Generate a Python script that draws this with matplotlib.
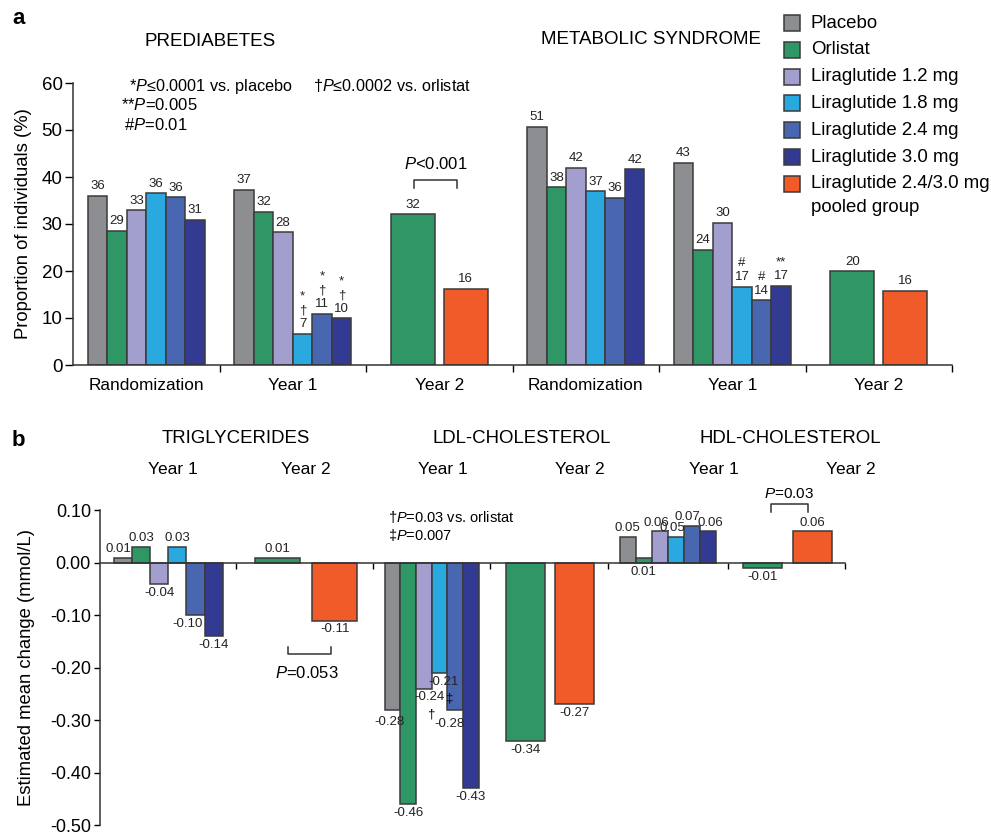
import numpy as np
import matplotlib.pyplot as plt
from matplotlib.patches import Rectangle

plt.rcParams['font.family'] = ['Liberation Sans', 'DejaVu Sans']
plt.rcParams['mathtext.fontset'] = 'custom'
plt.rcParams['mathtext.it'] = 'Liberation Sans:italic'
plt.rcParams['mathtext.rm'] = 'Liberation Sans'

W, H = 991, 835

# groups / colours
groups = ['Placebo', 'Orlistat', 'Liraglutide 1.2 mg', 'Liraglutide 1.8 mg',
          'Liraglutide 2.4 mg', 'Liraglutide 3.0 mg',
          'Liraglutide 2.4/3.0 mg\npooled group']
colors = ['#8d8e91', '#2f9766', '#a29fce', '#2aa9e1', '#4967b0', '#333a91', '#f05b29']
edge = '#3a3a3a'

# panel a: proportion of individuals (%)
a_sections = ['Randomization', 'Year 1', 'Year 2', 'Randomization', 'Year 1', 'Year 2']
pre_rand = [36.0, 28.6, 32.9, 36.6, 35.7, 30.9]
pre_rand_lab = ['36', '29', '33', '36', '36', '31']
pre_y1 = [37.3, 32.6, 28.2, 6.7, 10.9, 9.9]
pre_y1_lab = ['37', '32', '28', '*\n†\n7', '*\n†\n11', '*\n†\n10']
pre_y2 = [32.1, 16.2]
pre_y2_lab = ['32', '16']
ms_rand = [50.7, 37.8, 42.0, 37.0, 35.6, 41.6]
ms_rand_lab = ['51', '38', '42', '37', '36', '42']
ms_y1 = [43.0, 24.5, 30.3, 16.7, 13.8, 16.9]
ms_y1_lab = ['43', '24', '30', '#\n17', '#\n14', '**\n17']
ms_y2 = [19.9, 15.8]
ms_y2_lab = ['20', '16']

# panel b: estimated mean change (mmol/L)
tg_y1 = [0.01, 0.03, -0.04, 0.03, -0.10, -0.14]
tg_y2 = [0.01, -0.11]
ldl_y1 = [-0.28, -0.46, -0.24, -0.21, -0.28, -0.43]
ldl_y2 = [-0.34, -0.27]
hdl_y1 = [0.05, 0.01, 0.06, 0.05, 0.07, 0.06]
hdl_y2 = [-0.01, 0.06]
b_edges = [0, 1.0, 2.0, 2.86, 3.72, 4.6, 5.46]


def fx(px):
    return px / W


def fy(py):
    return 1 - py / H


fig = plt.figure(figsize=(9.91, 8.35), dpi=100)

# ---------------- panel a ----------------
axa = fig.add_axes([fx(73), fy(365), fx(952) - fx(73), fy(83) - fy(365)])
a_data = [pre_rand, pre_y1, pre_y2, ms_rand, ms_y1, ms_y2]
a_labs = [pre_rand_lab, pre_y1_lab, pre_y2_lab, ms_rand_lab, ms_y1_lab, ms_y2_lab]
for s, (vals, labs) in enumerate(zip(a_data, a_labs)):
    if len(vals) == 6:
        w = 0.8 / 6
        xs = s + 0.5 + (np.arange(6) - 2.5) * w
        cols = colors[:6]
    else:
        w = 0.30
        xs = s + np.array([0.32, 0.68])
        cols = [colors[1], colors[6]]
    axa.bar(xs, vals, width=w, color=cols, edgecolor=edge, linewidth=1.1, zorder=2)
    for x, v, t in zip(xs, vals, labs):
        axa.annotate(t, (x, v), xytext=(0, 2.5), textcoords='offset points',
                     ha='center', va='bottom', fontsize=9.5, color='#222222')

axa.set_xlim(0, 6)
axa.set_ylim(0, 60)
axa.set_yticks(range(0, 61, 10))
axa.set_xticks(range(1, 7))
axa.set_xticklabels([])
axa.set_xticks(np.arange(6) + 0.5, minor=True)
axa.set_xticklabels(a_sections, minor=True, fontsize=12.4)
axa.tick_params(axis='x', which='minor', length=0, pad=9)
axa.tick_params(axis='x', which='major', length=5, width=1, direction='out')
axa.tick_params(axis='y', length=5.5, width=1, direction='out', labelsize=13.5, pad=2)
for sp in ['top', 'right']:
    axa.spines[sp].set_visible(False)
for sp in ['left', 'bottom']:
    axa.spines[sp].set_linewidth(1.1)
    axa.spines[sp].set_color('#333333')
axa.set_ylabel('Proportion of individuals (%)', fontsize=13.3, labelpad=7)

# P<0.001 bracket (prediabetes, year 2)
x0, x1 = 2 + 0.328, 2 + 0.621
axa.plot([x0, x0, x1, x1], [37.7, 39.4, 39.4, 37.7], color='#333333', lw=1.1)
axa.text((x0 + x1) / 2, 41.0, '$P$<0.001', ha='center', va='bottom', fontsize=12)

fig.text(fx(12), fy(18), 'a', fontsize=16, fontweight='bold', va='center')
fig.text(fx(210), fy(42), 'PREDIABETES', fontsize=13.5, ha='center', va='center')
fig.text(fx(651), fy(40), 'METABOLIC SYNDROME', fontsize=13.5, ha='center', va='center')
fig.text(fx(129), fy(86), '*$P$\u22640.0001 vs. placebo', fontsize=11.7, va='center')
fig.text(fx(313), fy(86), '\u2020$P$\u22640.0002 vs. orlistat', fontsize=11.7, va='center')
fig.text(fx(121), fy(105), '**$P$=0.005', fontsize=12, va='center')
fig.text(fx(124), fy(125), '#$P$=0.01', fontsize=12, va='center')

# legend
row_y = 23
for i, (name, c) in enumerate(zip(groups, colors)):
    yc = row_y + i * 26.8
    fig.add_artist(Rectangle((fx(784), fy(yc + 8)), fx(16), 16 / H, transform=fig.transFigure,
                             facecolor=c, edgecolor=edge, linewidth=1.1))
    for k, line in enumerate(name.split('\n')):
        fig.text(fx(811), fy(yc + k * 24), line, fontsize=13.4, va='center')

# ---------------- panel b ----------------
axb = fig.add_axes([fx(100), fy(825), fx(845) - fx(100), fy(510.5) - fy(825)])
b_data = [tg_y1, tg_y2, ldl_y1, ldl_y2, hdl_y1, hdl_y2]
# label nudges (points) where the original staggers overlapping numbers
b_dx = {(0, 0): -3, (0, 4): -6, (2, 0): -2, (2, 2): 4, (2, 3): 3, (2, 4): -4,
        (4, 2): -2, (4, 3): -2, (4, 4): -3, (4, 5): 2}
b_dy = {(2, 0): -2.5, (2, 4): -4}
b_below = {(4, 1)}
b_x = []
for s, vals in enumerate(b_data):
    lo, hi = b_edges[s], b_edges[s + 1]
    sw = hi - lo
    if len(vals) == 6:
        w = 0.8 * sw / 6
        xs = lo + sw * 0.5 + (np.arange(6) - 2.5) * w
        cols = colors[:6]
    else:
        w = 0.33 * sw
        xs = lo + sw * np.array([0.30, 0.72])
        cols = [colors[1], colors[6]]
    b_x.append(xs)
    axb.bar(xs, vals, width=w, color=cols, edgecolor=edge, linewidth=1.1, zorder=2)
    for i, (x, v) in enumerate(zip(xs, vals)):
        dx = b_dx.get((s, i), 0)
        dy = b_dy.get((s, i), 0)
        if v > 0 and (s, i) not in b_below:
            axb.annotate(f'{v:.2f}', (x, v), xytext=(dx, 2 + dy), textcoords='offset points',
                         ha='center', va='bottom', fontsize=9.5, color='#222222')
        else:
            axb.annotate(f'{v:.2f}', (x, min(v, 0)), xytext=(dx, -2 + dy), textcoords='offset points',
                         ha='center', va='top', fontsize=9.5, color='#222222')

# daggers under LDL year 1 bars
axb.annotate('\u2020', (b_x[2][2], ldl_y1[2]), xytext=(5, -14), textcoords='offset points',
             ha='center', va='top', fontsize=9.5)
axb.annotate('\u2021', (b_x[2][3], ldl_y1[3]), xytext=(6.5, -14), textcoords='offset points',
             ha='center', va='top', fontsize=9.5)

axb.set_xlim(b_edges[0], b_edges[-1])
axb.set_ylim(-0.5, 0.1)
yt = np.round(np.arange(0.1, -0.51, -0.1), 2)
axb.set_yticks(yt)
axb.set_yticklabels([f'{t:.2f}' if t != 0 else '0.00' for t in yt])
axb.set_xticks(b_edges[1:])
axb.set_xticklabels([])
axb.spines['bottom'].set_position(('data', 0))
for sp in ['top', 'right']:
    axb.spines[sp].set_visible(False)
for sp in ['left', 'bottom']:
    axb.spines[sp].set_linewidth(1.1)
    axb.spines[sp].set_color('#333333')
axb.tick_params(axis='x', length=4.5, width=1, direction='out')
axb.tick_params(axis='y', length=4.5, width=1, direction='out', labelsize=13, pad=2)
axb.set_ylabel('Estimated mean change (mmol/L)', fontsize=13.3, labelpad=11)

# P=0.053 bracket (triglycerides, year 2)
lo, sw = b_edges[1], b_edges[2] - b_edges[1]
x0, x1 = lo + 0.377 * sw, lo + 0.69 * sw
axb.plot([x0, x0, x1, x1], [-0.160, -0.173, -0.173, -0.160], color='#333333', lw=1.1)
axb.text((x0 + x1) / 2 - 0.02, -0.195, '$P$=0.053', ha='center', va='top', fontsize=12)

# P=0.03 bracket (HDL, year 2)
lo, sw = b_edges[5], b_edges[6] - b_edges[5]
x0, x1 = lo + 0.367 * sw, lo + 0.684 * sw
axb.plot([x0, x0, x1, x1], [0.098, 0.113, 0.113, 0.098], color='#333333', lw=1.1, clip_on=False)
axb.text((x0 + x1) / 2, 0.118, '$P$=0.03', ha='center', va='bottom', fontsize=11)

fig.text(fx(12), fy(440), 'b', fontsize=16, fontweight='bold', va='center')
fig.text(fx(236), fy(438.5), 'TRIGLYCERIDES', fontsize=13.4, ha='center', va='center')
fig.text(fx(522), fy(438.5), 'LDL-CHOLESTEROL', fontsize=13.4, ha='center', va='center')
fig.text(fx(790), fy(438.5), 'HDL-CHOLESTEROL', fontsize=13.4, ha='center', va='center')
for xp, lab in zip([173, 306, 443, 580, 714, 851], ['Year 1', 'Year 2'] * 3):
    fig.text(fx(xp), fy(470), lab, fontsize=12.5, ha='center', va='center')
fig.text(fx(388), fy(517), '\u2020$P$=0.03 vs. orlistat', fontsize=10.5, va='center')
fig.text(fx(388), fy(535), '\u2021$P$=0.007', fontsize=10.5, va='center')

fig.savefig('out.png', dpi=100)
